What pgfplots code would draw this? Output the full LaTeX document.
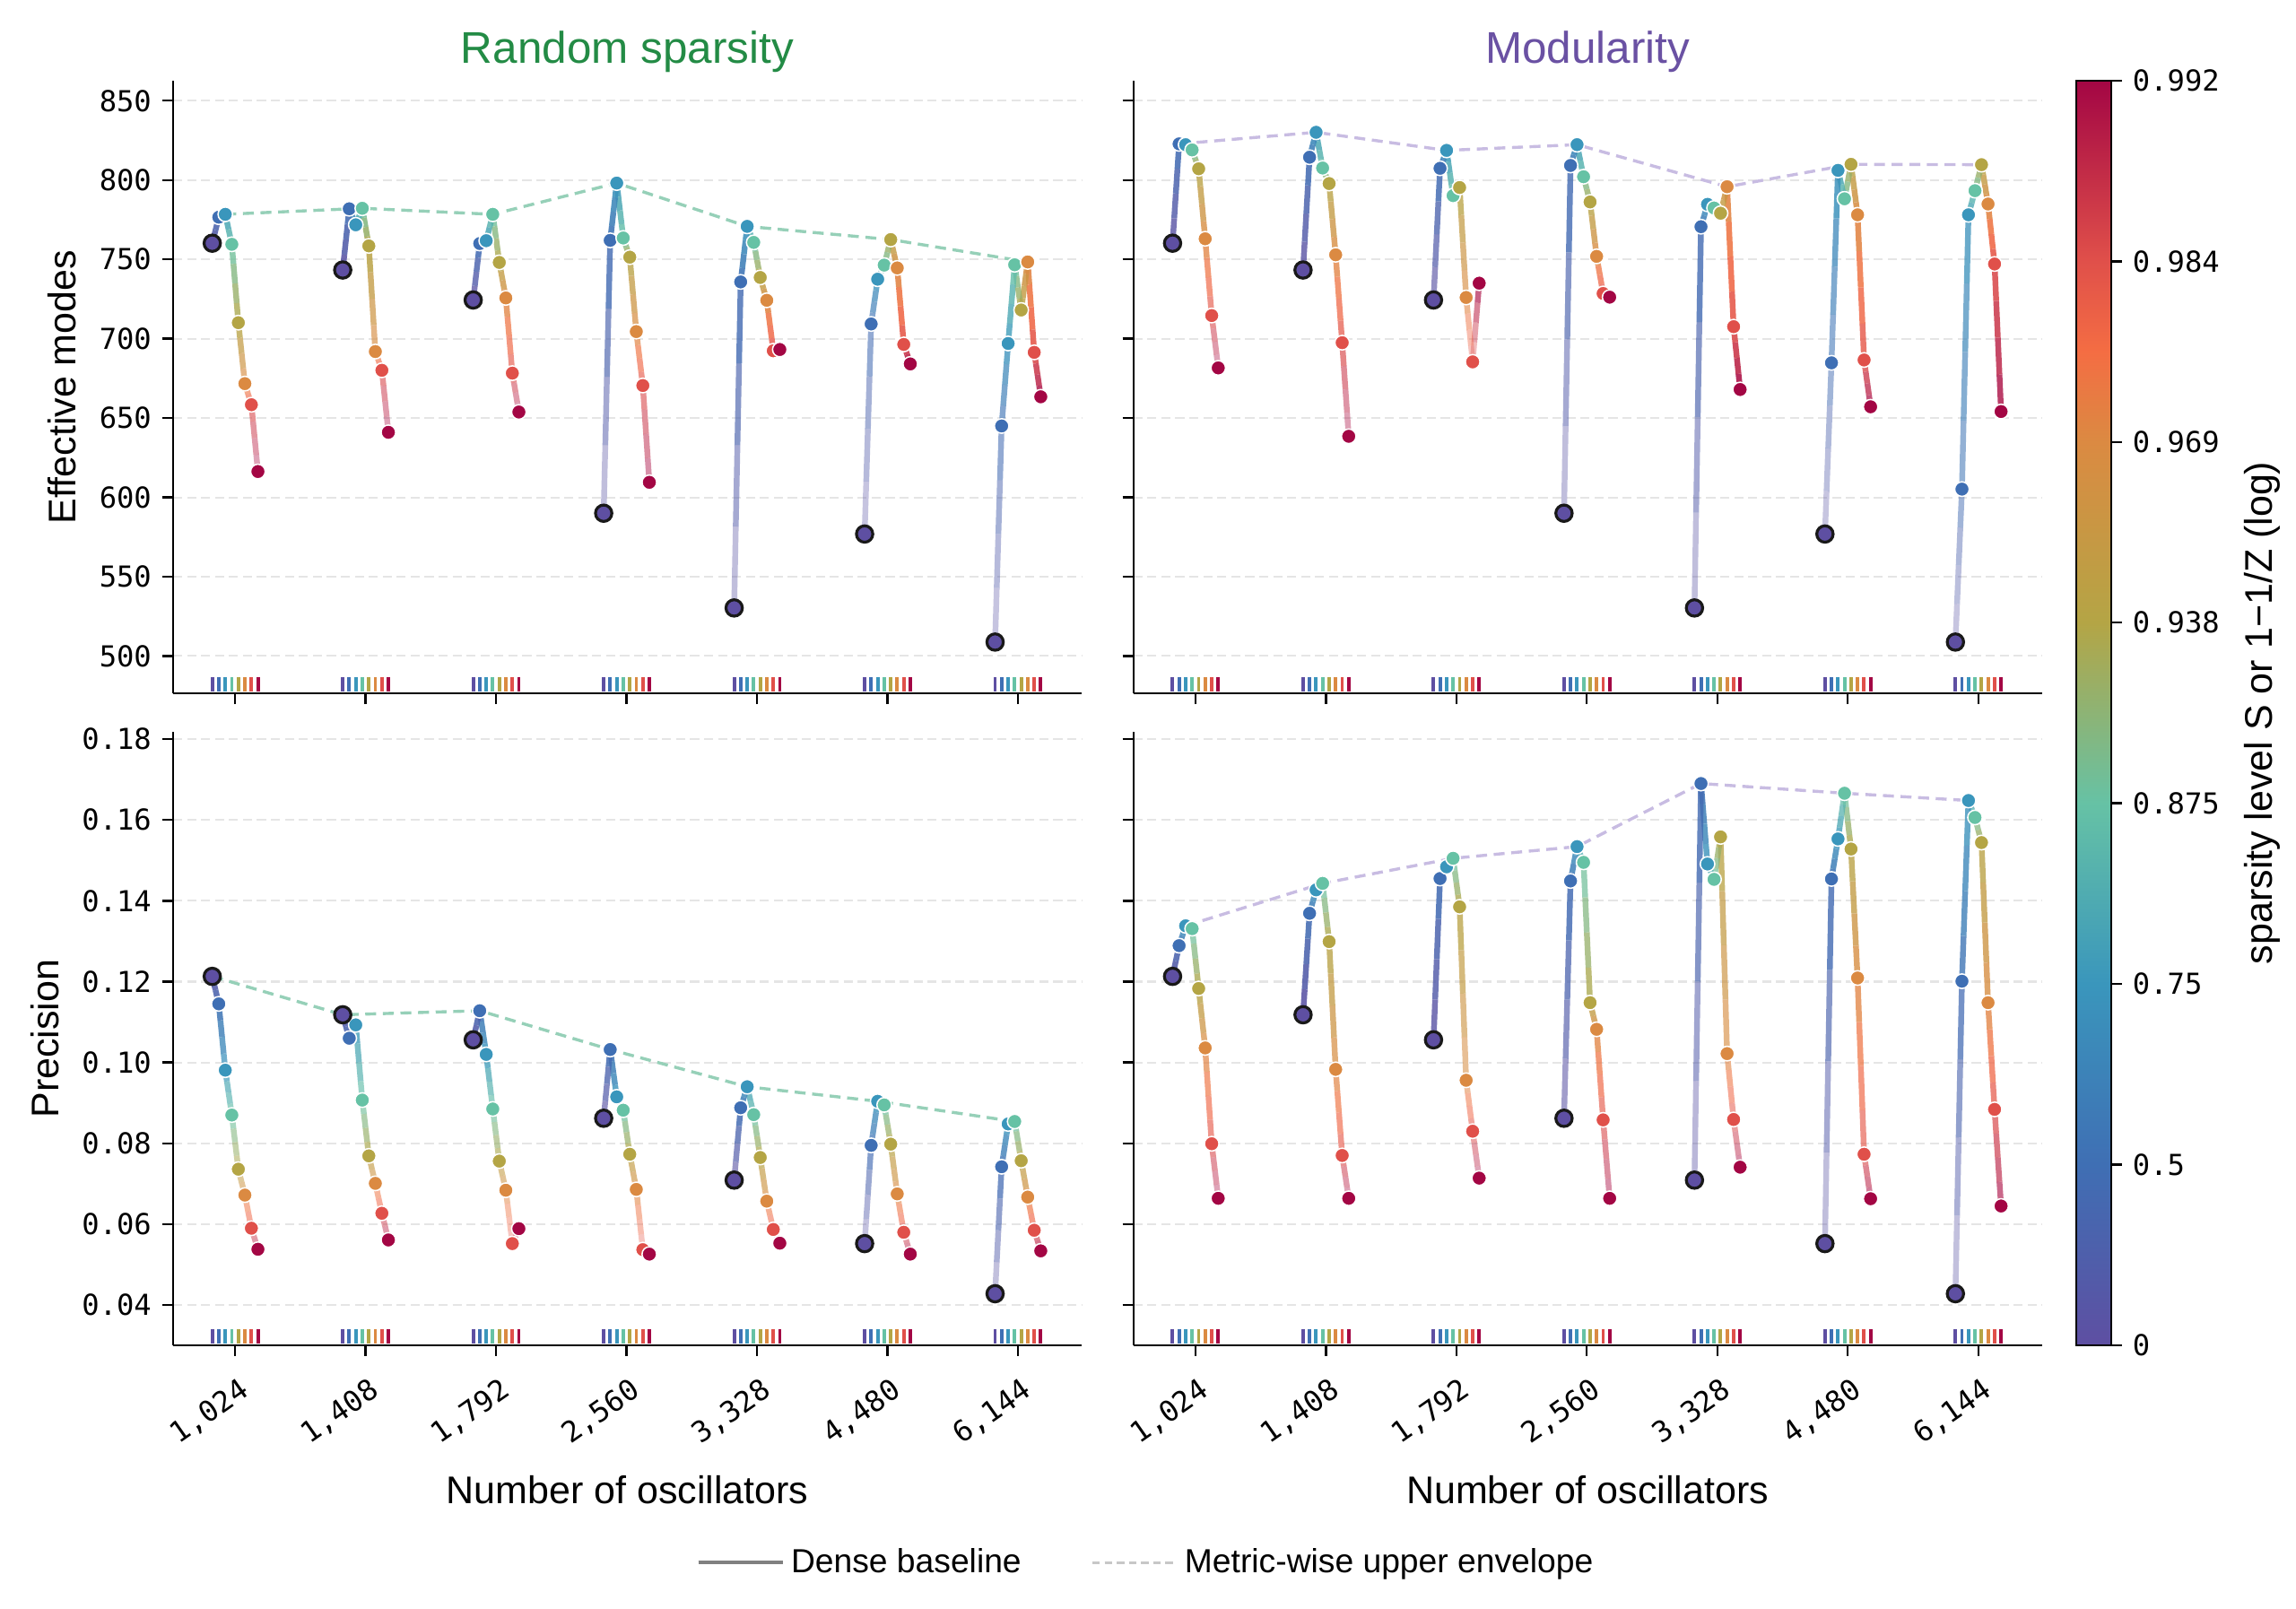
\documentclass[border=0pt]{standalone}
\usepackage{fontspec}
\setmainfont{Liberation Sans}
\newfontfamily\monof{DejaVu Sans Mono}
\usepackage{pgfplots}
\usepackage{pgfplotstable}
\pgfplotsset{compat=1.18}

\definecolor{cRand}{RGB}{35,139,69}
\definecolor{cMod}{RGB}{106,81,163}
\definecolor{envR}{RGB}{150,208,184}
\definecolor{envM}{RGB}{200,188,226}
\definecolor{baseG}{RGB}{162,162,162}

\newcommand\tickfont{\monof\fontsize{9.5}{11}\selectfont}
\newcommand\labfont{\fontsize{12.7}{15}\selectfont}
\newcommand\titfont{\fontsize{14.6}{17}\selectfont}
\newcommand\legfont{\fontsize{11}{13}\selectfont}

\pgfplotsset{colormap={spec}{rgb255(0)=(94,79,162) rgb255(2)=(63,111,180) rgb255(4)=(58,150,188) rgb255(6)=(102,194,165) rgb255(8)=(180,165,69) rgb255(10)=(219,138,66) rgb255(11)=(244,109,67) rgb255(12)=(224,80,74) rgb255(14)=(163,6,68)}}

% g = group (N index), k = sparsity level index, y = value, a = alpha, env = envelope point
\pgfplotstableread{
g k y a env
0 0 760.2 1.0 0
0 1 776.6 1.0 0
0 2 778.4 1.0 1
0 3 759.5 0.9 0
0 4 710.1 0.9 0
0 5 671.7 0.7 0
0 6 658.4 0.7 0
0 7 616.3 0.4 0
1 0 743.3 1.0 0
1 1 781.9 1.0 0
1 2 771.8 1.0 0
1 3 782.2 1.0 1
1 4 758.5 1.0 0
1 5 691.9 0.7 0
1 6 680.1 0.7 0
1 7 641.0 0.4 0
2 0 724.4 0.85 0
2 1 760.0 1.0 0
2 2 761.8 1.0 0
2 3 778.4 0.9 1
2 4 748.1 0.9 0
2 5 725.7 0.9 0
2 6 678.3 0.7 0
2 7 653.8 0.4 0
3 0 590.0 0.35 0
3 1 762.0 1.0 0
3 2 798.1 1.0 1
3 3 763.5 0.9 0
3 4 751.4 0.9 0
3 5 704.5 0.8 0
3 6 670.5 0.7 0
3 7 609.5 0.5 0
4 0 530.3 0.35 0
4 1 735.8 1.0 0
4 2 770.8 1.0 1
4 3 760.7 0.9 0
4 4 738.6 0.9 0
4 5 724.2 1.0 0
4 6 692.4 0.9 0
4 7 693.2 1.0 0
5 0 576.9 0.35 0
5 1 709.3 0.7 0
5 2 737.5 0.9 0
5 3 746.4 0.9 0
5 4 762.5 0.9 1
5 5 744.6 1.0 0
5 6 696.4 1.0 0
5 7 684.1 1.0 0
6 0 508.8 0.35 0
6 1 645.0 0.7 0
6 2 697.0 0.9 0
6 3 746.6 0.9 0
6 4 718.1 0.9 0
6 5 748.4 1.0 1
6 6 691.4 1.0 0
6 7 663.4 0.9 0
}\tabTL

\pgfplotstableread{
g k y a env
0 0 760.2 0.9 0
0 1 822.8 1.0 1
0 2 822.3 1.0 0
0 3 819.0 0.9 0
0 4 807.1 0.9 0
0 5 763.0 0.9 0
0 6 714.6 0.7 0
0 7 681.6 0.4 0
1 0 743.3 0.9 0
1 1 814.4 1.0 0
1 2 830.1 1.0 1
1 3 807.6 0.9 0
1 4 797.8 0.9 0
1 5 752.9 0.9 0
1 6 697.5 0.8 0
1 7 638.5 0.4 0
2 0 724.4 0.7 0
2 1 807.4 1.0 0
2 2 818.7 1.0 1
2 3 790.2 0.9 0
2 4 795.3 0.9 0
2 5 726.0 0.7 0
2 6 685.4 0.35 0
2 7 735.0 0.8 0
3 0 590.0 0.35 0
3 1 809.2 1.0 0
3 2 822.3 1.0 1
3 3 802.1 0.9 0
3 4 786.2 0.9 0
3 5 751.9 0.9 0
3 6 728.5 0.8 0
3 7 726.2 1.0 0
4 0 530.3 0.35 0
4 1 770.6 1.0 0
4 2 784.7 0.9 0
4 3 782.4 0.9 0
4 4 779.1 0.9 0
4 5 795.8 1.0 1
4 6 707.6 1.0 0
4 7 668.0 1.0 0
5 0 576.9 0.35 0
5 1 684.8 0.6 0
5 2 806.1 1.0 0
5 3 788.2 0.9 0
5 4 809.9 0.9 1
5 5 778.1 1.0 0
5 6 686.6 0.9 0
5 7 657.1 0.8 0
6 0 508.8 0.35 0
6 1 605.2 0.6 0
6 2 778.1 0.9 0
6 3 793.3 0.9 0
6 4 809.7 0.9 1
6 5 784.9 1.0 0
6 6 747.1 1.0 0
6 7 654.1 0.9 0
}\tabTR

\pgfplotstableread{
g k y a env
0 0 0.1213 1.0 1
0 1 0.1145 1.0 0
0 2 0.0981 0.8 0
0 3 0.0870 0.7 0
0 4 0.0736 0.6 0
0 5 0.0672 0.6 0
0 6 0.0590 0.6 0
0 7 0.0538 0.45 0
1 0 0.1118 1.0 1
1 1 0.1060 1.0 0
1 2 0.1093 0.9 0
1 3 0.0907 0.7 0
1 4 0.0769 0.8 0
1 5 0.0701 0.6 0
1 6 0.0627 0.6 0
1 7 0.0561 0.45 0
2 0 0.1056 1.0 0
2 1 0.1128 1.0 1
2 2 0.1020 0.9 0
2 3 0.0885 0.7 0
2 4 0.0756 0.7 0
2 5 0.0684 0.6 0
2 6 0.0552 0.35 0
2 7 0.0589 0.55 0
3 0 0.0862 0.7 0
3 1 0.1032 1.0 1
3 2 0.0915 0.9 0
3 3 0.0882 0.8 0
3 4 0.0773 0.8 0
3 5 0.0686 0.7 0
3 6 0.0537 0.35 0
3 7 0.0526 0.45 0
4 0 0.0709 0.65 0
4 1 0.0888 1.0 0
4 2 0.0940 0.9 1
4 3 0.0871 0.8 0
4 4 0.0765 0.8 0
4 5 0.0657 0.7 0
4 6 0.0587 0.55 0
4 7 0.0553 0.45 0
5 0 0.0552 0.35 0
5 1 0.0795 0.8 0
5 2 0.0904 0.9 1
5 3 0.0895 0.8 0
5 4 0.0798 0.8 0
5 5 0.0675 0.7 0
5 6 0.0580 0.6 0
5 7 0.0526 0.5 0
6 0 0.0428 0.35 0
6 1 0.0742 0.9 0
6 2 0.0848 0.9 0
6 3 0.0854 0.8 1
6 4 0.0757 0.8 0
6 5 0.0667 0.8 0
6 6 0.0585 0.7 0
6 7 0.0534 0.7 0
}\tabBL

\pgfplotstableread{
g k y a env
0 0 0.1213 1.0 0
0 1 0.1289 1.0 0
0 2 0.1338 0.9 1
0 3 0.1331 0.8 0
0 4 0.1183 0.9 0
0 5 0.1036 0.8 0
0 6 0.0799 0.7 0
0 7 0.0664 0.4 0
1 0 0.1118 1.0 0
1 1 0.1369 1.0 0
1 2 0.1427 0.9 0
1 3 0.1443 0.8 1
1 4 0.1299 0.9 0
1 5 0.0983 0.8 0
1 6 0.0770 0.7 0
1 7 0.0664 0.4 0
2 0 0.1056 0.9 0
2 1 0.1455 1.0 0
2 2 0.1484 0.9 0
2 3 0.1505 0.8 1
2 4 0.1385 0.9 0
2 5 0.0956 0.6 0
2 6 0.0830 0.6 0
2 7 0.0714 0.4 0
3 0 0.0862 0.6 0
3 1 0.1449 1.0 0
3 2 0.1534 0.9 1
3 3 0.1495 0.8 0
3 4 0.1148 0.9 0
3 5 0.1082 0.9 0
3 6 0.0858 0.7 0
3 7 0.0664 0.5 0
4 0 0.0709 0.4 0
4 1 0.1690 1.0 1
4 2 0.1491 0.9 0
4 3 0.1453 0.8 0
4 4 0.1558 0.9 0
4 5 0.1022 0.7 0
4 6 0.0859 0.6 0
4 7 0.0741 0.5 0
5 0 0.0552 0.35 0
5 1 0.1454 1.0 0
5 2 0.1553 0.9 0
5 3 0.1666 0.8 1
5 4 0.1528 0.9 0
5 5 0.1209 0.9 0
5 6 0.0773 0.7 0
5 7 0.0663 0.6 0
6 0 0.0428 0.35 0
6 1 0.1201 0.9 0
6 2 0.1648 0.9 1
6 3 0.1606 0.8 0
6 4 0.1544 0.9 0
6 5 0.1148 0.9 0
6 6 0.0884 0.8 0
6 7 0.0645 0.7 0
}\tabBR

% next-point columns for the connecting segments
\newcommand\prep[1]{%
  \pgfplotstablecreatecol[create col/expr={0\nextrow{y}-\thisrow{y}}]{v}{#1}%
  \pgfplotstablecreatecol[create col/expr={0\nextrow{a}}]{a2}{#1}%
}
\prep{\tabTL}\prep{\tabTR}\prep{\tabBL}\prep{\tabBR}

\def\X{\thisrow{g}-0.175+0.05*\thisrow{k}}

\pgfplotsset{
  panel/.style={
    scale only axis, width=299.1pt,
    xmin=-0.475, xmax=6.487,
    axis x line*=bottom, axis y line*=left,
    axis line style={line width=0.7pt, black},
    tick align=outside, major tick length=3.6pt,
    tick style={line width=0.7pt, black},
    xtick={0,...,6},
    ymajorgrids, grid style={color=black!10, line width=0.6pt, dash pattern=on 3pt off 1.6pt},
    tick label style={font=\tickfont},
    colormap name=spec, point meta min=0, point meta max=7,
    xlabel style={font=\labfont, at={(axis description cs:0.5,-0.236)}, anchor=center},
    every axis title shift=0pt,
    title style={font=\titfont, at={(axis description cs:0.5,1)}, anchor=center, yshift=9.4pt},
  },
  botx/.style={xticklabels={{1,024},{1,408},{1,792},{2,560},{3,328},{4,480},{6,144}},
    xticklabel style={rotate=35, anchor=north east, inner sep=1.5pt, xshift=-1.5pt, yshift=-4.5pt},
    xlabel={Number of oscillators}},
  topy/.style={ymin=476.5, ymax=862.6, ytick={500,550,...,850}},
  boty/.style={ymin=0.0301, ymax=0.1817, ytick={0.04,0.06,0.08,0.10,0.12,0.14,0.16,0.18}},
  gline/.style={forget plot, color=baseG, line width=0.75pt, restrict expr to domain={\thisrow{k}}{-0.5:0.5}},
  spars/.style={forget plot, scatter, only marks, mark=*, mark size=2.4pt,
    point meta=\thisrow{k}, visualization depends on={\thisrow{a} \as \pa},
    scatter/use mapped color={draw=white, fill=mapped color},
    scatter/@pre marker code/.append style={/tikz/opacity=\pa},
    mark options={line width=0.45pt},
    restrict expr to domain={\thisrow{k}}{0.5:7.5}},
  basem/.style={forget plot, scatter, only marks, mark=*, mark size=2.7pt,
    point meta=\thisrow{k}, visualization depends on={\thisrow{a} \as \pa},
    scatter/use mapped color={draw=black!90, fill=mapped color},
    scatter/@pre marker code/.append style={/tikz/fill opacity=\pa},
    mark options={line width=0.95pt},
    restrict expr to domain={\thisrow{k}}{-0.5:0.5}},
  rugm/.style={forget plot, scatter, only marks, mark=|, mark size=2.4pt,
    point meta=\thisrow{k}, visualization depends on={\thisrow{a} \as \pa},
    scatter/use mapped color={draw=mapped color},
    scatter/@pre marker code/.append style={/tikz/opacity=\pa},
    mark options={line width=1.15pt}},
}

\newcommand\segs[1]{%
  \pgfplotsinvokeforeach{0,1,2,3}{%
    \addplot[forget plot, point meta={\thisrow{k}+(##1+0.5)/4},
      visualization depends on={0.88*(\thisrow{a}+(\thisrow{a2}-\thisrow{a})*(##1+0.5)/4) \as \sa},
      restrict expr to domain={\thisrow{k}}{-0.1:6.1},
      quiver={u=0.0125, v=\thisrow{v}/4, colored=mapped color,
        every arrow/.append style={-, line width=1.9pt, line cap=butt, opacity=\sa}}]
      table[x expr={\X+0.0125*##1}, y expr={\thisrow{y}+\thisrow{v}*##1/4}] {#1};
  }%
}

\newcommand\panelplots[3]{% table, envelope colour, rug y
  \addplot[gline] table[x expr=\X, y=y] {#1};
  \addplot[forget plot, draw=#2, line width=1pt, dash pattern=on 3.6pt off 2.2pt,
    unbounded coords=discard, x filter/.expression={\thisrow{env}>0.5 ? x : nan}]
    table[x expr=\X, y=y] {#1};
  \segs{#1}
  \addplot[spars] table[x expr=\X, y=y] {#1};
  \addplot[basem] table[x expr=\X, y=y] {#1};
  \addplot[rugm] table[x expr=\X, y expr=#3] {#1};
}

\begin{document}
\begin{tikzpicture}
\path[use as bounding box] (0pt,0pt) rectangle (756pt,529.79pt);

% top-left
\begin{axis}[panel, topy, at={(57.0pt,301.5pt)}, anchor=south west, height=201.7pt,
  yticklabels={500,550,600,650,700,750,800,850}, xticklabels={},
  ylabel={Effective modes}, ylabel style={font=\labfont, at={(axis description cs:-0.1227,0.5)}, anchor=center},
  title={Random sparsity}, title style={text=cRand}]
  \panelplots{\tabTL}{envR}{482.05}
\end{axis}

% top-right
\begin{axis}[panel, topy, at={(373.2pt,301.5pt)}, anchor=south west, height=201.7pt,
  yticklabels={}, xticklabels={},
  title={Modularity}, title style={text=cMod},
  colorbar, colorbar shift/.style={},
  colorbar style={at={(parent axis.north east)}, anchor=north west, xshift=11.3pt,
    scale only axis, width=11.5pt, height=416.3pt,
    axis lines=box, ymajorgrids=false, xmajorgrids=false,
    xtick=\empty, ytick={0,1,2,3,4,5,6,7},
    yticklabels={0,0.5,0.75,0.875,0.938,0.969,0.984,0.992},
    ytick pos=right, yticklabel pos=right,
    tick align=outside, major tick length=3.6pt,
    tick style={line width=0.7pt, black},
    axis line style={line width=0.6pt, black},
    yticklabel style={font=\tickfont},
    ylabel={sparsity level S or 1−1/Z (log)},
    ylabel style={font=\labfont, at={(axis description cs:5.32,0.5)}, anchor=center}}]
  \panelplots{\tabTR}{envM}{482.05}
\end{axis}

% bottom-left
\begin{axis}[panel, boty, botx, at={(57.0pt,86.9pt)}, anchor=south west, height=201.8pt,
  yticklabels={0.04,0.06,0.08,0.10,0.12,0.14,0.16,0.18},
  ylabel={Precision}, ylabel style={font=\labfont, at={(axis description cs:-0.1407,0.5)}, anchor=center},
  legend style={at={(axis description cs:1.0732,-0.3548)}, anchor=center, draw=none, fill=none,
    legend columns=2, font=\legfont, /tikz/every even column/.append style={column sep=21pt}},
  legend cell align=left,
  legend image code/.code={\draw[#1] (0pt,0pt) -- (22pt,0pt); \path (0pt,0pt) -- (28pt,0pt);}]
  \panelplots{\tabBL}{envR}{0.0323}
  \addlegendimage{color=black!50, line width=1.1pt}
  \addlegendentry{Dense baseline}
  \addlegendimage{color=black!22, line width=0.8pt, dash pattern=on 2.5pt off 1.5pt}
  \addlegendentry{Metric-wise upper envelope}
\end{axis}

% bottom-right
\begin{axis}[panel, boty, botx, at={(373.2pt,86.9pt)}, anchor=south west, height=201.8pt,
  yticklabels={}]
  \panelplots{\tabBR}{envM}{0.0323}
\end{axis}
\end{tikzpicture}
\end{document}
